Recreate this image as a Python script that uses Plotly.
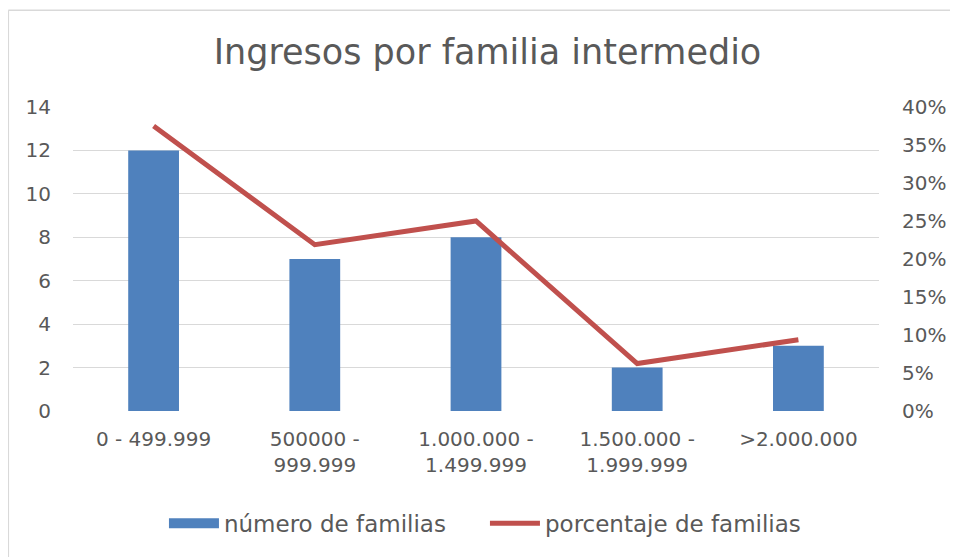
import plotly.graph_objects as go

categories = ["0 - 499.999", "500000 -<br>999.999", "1.000.000 -<br>1.499.999", "1.500.000 -<br>1.999.999", ">2.000.000"]
num_familias = [12, 7, 8, 2, 3]
pct_familias = [0.375, 0.21875, 0.25, 0.0625, 0.09375]
left_ticks = [0, 2, 4, 6, 8, 10, 12, 14]
right_ticks = [0, 0.05, 0.10, 0.15, 0.20, 0.25, 0.30, 0.35, 0.40]

FONT = "'DejaVu Sans', Verdana, sans-serif"
GREY = "#595959"
BLUE = "#4F81BD"
RED = "#C0504D"

OFF = 8  # page body margin
W, H = 950, 549
L, R, T, B = 73 - OFF, 75, 107 - OFF, 144
pw, ph = W - L - R, H - T - B


def px(x):  # reference page x -> paper
    return (x - OFF - L) / pw


def py(y):  # reference page y -> paper
    return 1 - (y - OFF - T) / ph


fig = go.Figure()
fig.add_trace(go.Bar(x=categories, y=num_familias, name="número de familias",
                     marker=dict(color=BLUE, line=dict(width=0)), width=0.315,
                     showlegend=False))
fig.add_trace(go.Scatter(x=[None], y=[None], name="número de familias", mode="lines",
                         line=dict(color=BLUE, width=12), showlegend=True, hoverinfo="skip"))
fig.add_trace(go.Scatter(x=categories, y=pct_familias, name="porcentaje de familias",
                         mode="lines", line=dict(color=RED, width=5), yaxis="y2"))

fig.update_layout(
    width=W, height=H,
    margin=dict(l=L, r=R, t=T, b=B),
    paper_bgcolor="white", plot_bgcolor="white",
    font=dict(family=FONT, color=GREY, size=20),
    title=dict(text="Ingresos por familia intermedio", x=(487.5 - OFF) / W, xanchor="center",
               y=1 - (52 - OFF) / H, yanchor="middle",
               font=dict(size=35, color=GREY, family=FONT)),
    xaxis=dict(showgrid=False, showline=False, ticks="", ticklabelstandoff=14,
               tickfont=dict(size=20, color=GREY)),
    yaxis=dict(range=[0, 14], tickvals=left_ticks, showgrid=True, gridcolor="#D9D9D9",
               gridwidth=1, zeroline=False, showline=False, ticks="", ticklabelstandoff=21,
               tickfont=dict(size=20, color=GREY)),
    yaxis2=dict(range=[0, 0.40], tickvals=right_ticks, tickformat=".0%", overlaying="y",
                side="right", showgrid=False, zeroline=False, showline=False, ticks="",
                ticklabelstandoff=22, tickfont=dict(size=20, color=GREY)),
    legend=dict(orientation="h", x=px(487), xanchor="center", y=py(526), yanchor="middle",
                font=dict(size=23, color=GREY), traceorder="normal", itemwidth=50,
                entrywidth=256, entrywidthmode="pixels", tracegroupgap=0),
    shapes=[
        dict(type="line", xref="paper", yref="paper", x0=px(8), x1=px(960), y0=py(9.5), y1=py(9.5),
             line=dict(color="#D9D9D9", width=1.5)),
        dict(type="line", xref="paper", yref="paper", x0=px(8), x1=px(8), y0=py(9.5), y1=py(570),
             line=dict(color="#D9D9D9", width=1.5)),
    ],
)

fig.write_html("out.html")
